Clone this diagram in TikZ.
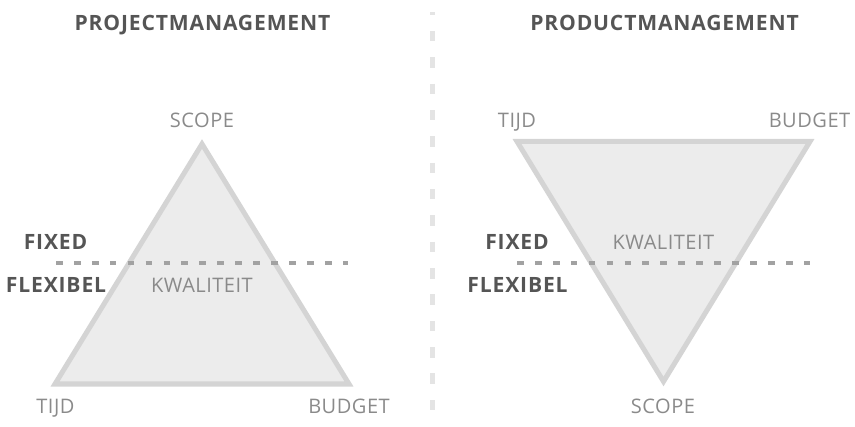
\documentclass[tikz,border=0pt]{standalone}
\usepackage{fontspec}
\setmainfont{Open Sans}
\usetikzlibrary{positioning}

\definecolor{edgegray}{HTML}{D4D4D4}
\definecolor{fillgray}{HTML}{ECECEC}
\definecolor{dashgray}{HTML}{A2A2A2}
\definecolor{labelgray}{HTML}{8A8A8A}
\definecolor{headgray}{HTML}{555555}
\definecolor{splitgray}{HTML}{E4E4E4}

\tikzset{
  corner/.style={anchor=base, inner sep=0pt, text=labelgray,
    font=\fontsize{11.4}{13}\selectfont\addfontfeatures{LetterSpace=2.5}},
  heading/.style={anchor=base, inner sep=0pt, text=headgray,
    font=\fontsize{12}{14}\selectfont\bfseries\addfontfeatures{LetterSpace=4}},
  triangle/.style={draw=edgegray, fill=fillgray, line width=2.85pt, line join=miter},
  border/.style={dashgray, line width=1.85pt, dash pattern=on 3.8pt off 6.4pt},
}

\begin{document}
\begin{tikzpicture}
  \useasboundingbox (0,0) rectangle (17.1,8.52);

  % split between the two halves
  \coordinate (split-top) at (8.65,8.28);
  \coordinate (split-bot) at (8.65,0);
  \draw[splitgray, line width=3.1pt, dash pattern=on 6pt off 9pt, dash phase=4.3pt] (split-top) -- (split-bot);

  % projectmanagement: scope on top
  \coordinate (p-scope)  at (4.04,5.64);
  \coordinate (p-tijd)   at (1.10,0.84);
  \coordinate (p-budget) at (6.98,0.84);
  \filldraw[triangle] (p-tijd) -- (p-budget) -- (p-scope) -- cycle;
  \coordinate (p-left)  at (1.12,3.26);
  \coordinate (p-right) at (6.96,3.26);
  \draw[border] (p-left) -- (p-right);

  \node[heading] (p-title) at (4.05,7.90) {PROJECTMANAGEMENT};
  \node[corner] (p-scope-lbl)  at (4.04,5.96) {SCOPE};
  \node[corner] (p-tijd-lbl)   at (1.11,0.25) {TIJD};
  \node[corner] (p-budget-lbl) at (6.98,0.25) {BUDGET};
  \node[heading] (p-fixed) at (1.11,3.52) {FIXED};
  \node[heading] (p-flex)  at (1.12,2.67) {FLEXIBEL};
  \node[corner] (p-kwal)   at (4.04,2.67) {KWALITEIT};

  % productmanagement: scope at the bottom
  \coordinate (q-tijd)   at (10.34,5.69);
  \coordinate (q-budget) at (16.20,5.69);
  \coordinate (q-scope)  at (13.27,0.89);
  \filldraw[triangle] (q-tijd) -- (q-budget) -- (q-scope) -- cycle;
  \coordinate (q-left)  at (10.34,3.26);
  \coordinate (q-right) at (16.20,3.26);
  \draw[border] (q-left) -- (q-right);

  \node[heading] (q-title) at (13.29,7.90) {PRODUCTMANAGEMENT};
  \node[corner] (q-tijd-lbl)   at (10.34,5.96) {TIJD};
  \node[corner] (q-budget-lbl) at (16.19,5.96) {BUDGET};
  \node[corner] (q-scope-lbl)  at (13.26,0.25) {SCOPE};
  \node[heading] (q-fixed) at (10.34,3.52) {FIXED};
  \node[corner] (q-kwal)   at (13.27,3.52) {KWALITEIT};
  \node[heading] (q-flex)  at (10.35,2.67) {FLEXIBEL};
\end{tikzpicture}
\end{document}
